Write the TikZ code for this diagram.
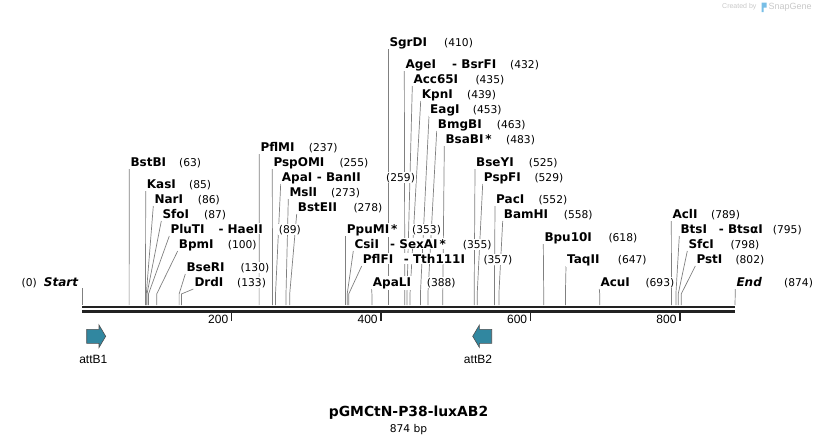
\documentclass[tikz,border=0pt]{standalone}
\usepackage{fontspec}
\setmainfont{DejaVu Sans}
\newfontfamily\featfont{Liberation Sans}
\usetikzlibrary{positioning}
\pgfdeclarelayer{background}
\pgfsetlayers{background,main}
\definecolor{cutgray}{RGB}{128,128,128}
\definecolor{featblue}{RGB}{49,135,160}
\definecolor{darkline}{RGB}{34,34,34}
\definecolor{markgray}{RGB}{200,200,200}
\definecolor{markblue}{RGB}{120,190,230}
\tikzset{enz/.style={anchor=base west, inner sep=1pt, fill=white, font=\fontsize{12}{14}\selectfont\bfseries}}
\tikzset{bp/.style={anchor=base west, inner sep=1pt, fill=white, font=\fontsize{10.7}{13}\selectfont}}
\tikzset{cutline/.style={draw=cutgray, line width=0.7pt}}
\tikzset{strand/.style={draw=darkline, line width=2.4pt}}
\tikzset{ruler/.style={draw=darkline, line width=1.6pt}}
\tikzset{feat/.style={draw=darkline!80, fill=featblue, line width=0.6pt}}
\tikzset{featlabel/.style={font=\featfont\fontsize{12}{14}\selectfont, inner sep=0pt}}
\tikzset{ticklabel/.style={anchor=base east, inner sep=0pt, font=\featfont\fontsize{12}{14}\selectfont}}

\begin{document}
\begin{tikzpicture}[x=1pt, y=-1pt]
\useasboundingbox (0,0) rectangle (818,445);

% ends of the sequence
\node[bp, anchor=base east] (zero) at (38,286) {(0)};
\node[enz, anchor=base west, font=\fontsize{12}{14}\selectfont\bfseries\itshape] (startl) at (42.7,286) {Start};
\node[enz, font=\fontsize{12}{14}\selectfont\bfseries\itshape] (endl) at (735.3,286) {End};
\node[bp] (endl-n) at (783,286) {(874)};
\coordinate (start-t) at (82,288);
\coordinate (start-c) at (82,305);
\coordinate (end-c) at (735,305);

% enzymes, middle block
\node[enz] (sgrdi) at (388.3,46) {SgrDI};
\node[bp] (sgrdi-n) at (443,46) {(410)};
\node[enz] (agei) at (404.3,68) {AgeI};
\node[enz] (bsrfi) at (451,68) {- BsrFI};
\node[bp] (agei-n) at (509,68) {(432)};
\node[enz] (acc65i) at (412.3,83) {Acc65I};
\node[bp] (acc65i-n) at (474.3,83) {(435)};
\node[enz] (kpni) at (420.7,98) {KpnI};
\node[bp] (kpni-n) at (466,98) {(439)};
\node[enz] (eagi) at (429,113) {EagI};
\node[bp] (eagi-n) at (471.7,113) {(453)};
\node[enz] (bmgbi) at (436.7,128) {BmgBI};
\node[bp] (bmgbi-n) at (495.7,128) {(463)};
\node[enz] (bsabi) at (444.3,143) {BsaBI\,*};
\node[bp] (bsabi-n) at (505,143) {(483)};

\node[enz] (pflmi) at (259.3,151) {PflMI};
\node[bp] (pflmi-n) at (307.7,151) {(237)};
\node[enz] (pspomi) at (272.3,166) {PspOMI};
\node[bp] (pspomi-n) at (338.3,166) {(255)};
\node[enz] (apai) at (280.7,181) {ApaI};
\node[enz] (banii) at (315.7,181) {- BanII};
\node[bp] (apai-n) at (385,181) {(259)};
\node[enz] (msli) at (288.3,196) {MslI};
\node[bp] (msli-n) at (330,196) {(273)};
\node[enz] (bsteii) at (296.7,211) {BstEII};
\node[bp] (bsteii-n) at (352.3,211) {(278)};

% enzymes, left block
\node[enz] (bstbi) at (129.3,166) {BstBI};
\node[bp] (bstbi-n) at (178,166) {(63)};
\node[enz] (kasi) at (145.7,188) {KasI};
\node[bp] (kasi-n) at (188,188) {(85)};
\node[enz] (nari) at (153.3,203) {NarI};
\node[bp] (nari-n) at (196.7,203) {(86)};
\node[enz] (sfoi) at (161.3,218) {SfoI};
\node[bp] (sfoi-n) at (203,218) {(87)};
\node[enz] (pluti) at (169.3,233) {PluTI};
\node[enz] (haeii) at (217.3,233) {- HaeII};
\node[bp] (pluti-n) at (277.7,233) {(89)};
\node[enz] (bpmi) at (177.7,248) {BpmI};
\node[bp] (bpmi-n) at (226.7,248) {(100)};
\node[enz] (bseri) at (185.3,271) {BseRI};
\node[bp] (bseri-n) at (239.3,271) {(130)};
\node[enz] (drdi) at (193.3,286) {DrdI};
\node[bp] (drdi-n) at (236,286) {(133)};

% enzymes, lower middle
\node[enz] (ppumi) at (345.7,233) {PpuMI\,*};
\node[bp] (ppumi-n) at (411,233) {(353)};
\node[enz] (csii) at (353.3,248) {CsiI};
\node[enz] (sexai) at (389,248) {- SexAI\,*};
\node[bp] (csii-n) at (461.7,248) {(355)};
\node[enz] (pflfi) at (361.7,263) {PflFI};
\node[enz] (tth111i) at (402.7,263) {- Tth111I};
\node[bp] (pflfi-n) at (482.3,263) {(357)};
\node[enz] (apali) at (371.7,286) {ApaLI};
\node[bp] (apali-n) at (425.7,286) {(388)};

% enzymes, right block
\node[enz] (bseyi) at (475,166) {BseYI};
\node[bp] (bseyi-n) at (527.7,166) {(525)};
\node[enz] (pspfi) at (482.7,181) {PspFI};
\node[bp] (pspfi-n) at (533.3,181) {(529)};
\node[enz] (paci) at (495,203) {PacI};
\node[bp] (paci-n) at (537.3,203) {(552)};
\node[enz] (bamhi) at (502.7,218) {BamHI};
\node[bp] (bamhi-n) at (562.7,218) {(558)};
\node[enz] (bpu10i) at (543.3,241) {Bpu10I};
\node[bp] (bpu10i-n) at (607.3,241) {(618)};
\node[enz] (taqii) at (566,263) {TaqII};
\node[bp] (taqii-n) at (616.7,263) {(647)};
\node[enz] (acui) at (599.3,286) {AcuI};
\node[bp] (acui-n) at (644.3,286) {(693)};
\node[enz] (acli) at (671.3,218) {AclI};
\node[bp] (acli-n) at (710,218) {(789)};
\node[enz] (btsi) at (679.3,233) {BtsI};
\node[enz] (btsai) at (717.7,233) {- BtsαI};
\node[bp] (btsi-n) at (771.7,233) {(795)};
\node[enz] (sfci) at (687.3,248) {SfcI};
\node[bp] (sfci-n) at (729.3,248) {(798)};
\node[enz] (psti) at (695.3,263) {PstI};
\node[bp] (psti-n) at (734.3,263) {(802)};

% cut sites on the sequence
\coordinate (sgrdi-c) at (388.3,305);
\coordinate (agei-c) at (404.8,305);
\coordinate (acc65i-c) at (407.0,305);
\coordinate (kpni-c) at (410.0,305);
\coordinate (eagi-c) at (420.4,305);
\coordinate (bmgbi-c) at (427.9,305);
\coordinate (bsabi-c) at (442.8,305);
\coordinate (pflmi-c) at (259.1,305);
\coordinate (pspomi-c) at (272.5,305);
\coordinate (apai-c) at (275.5,305);
\coordinate (msli-c) at (286.0,305);
\coordinate (bsteii-c) at (289.7,305);
\coordinate (bstbi-c) at (129.1,305);
\coordinate (kasi-c) at (145.5,305);
\coordinate (nari-c) at (146.3,305);
\coordinate (sfoi-c) at (147.0,305);
\coordinate (pluti-c) at (148.5,305);
\coordinate (bpmi-c) at (156.7,305);
\coordinate (bseri-c) at (179.1,305);
\coordinate (drdi-c) at (181.4,305);
\coordinate (ppumi-c) at (345.7,305);
\coordinate (csii-c) at (347.2,305);
\coordinate (pflfi-c) at (348.7,305);
\coordinate (apali-c) at (371.9,305);
\coordinate (bseyi-c) at (474.2,305);
\coordinate (pspfi-c) at (477.2,305);
\coordinate (paci-c) at (494.4,305);
\coordinate (bamhi-c) at (498.9,305);
\coordinate (bpu10i-c) at (543.7,305);
\coordinate (taqii-c) at (565.4,305);
\coordinate (acui-c) at (599.7,305);
\coordinate (acli-c) at (671.5,305);
\coordinate (btsi-c) at (675.9,305);
\coordinate (sfci-c) at (678.2,305);
\coordinate (psti-c) at (681.2,305);

\begin{pgfonlayer}{background}
\draw[cutline] (start-t) -- (start-c);
\draw[cutline] ([yshift=-3pt]endl.base west) -- (end-c);
\foreach \e in {sgrdi,agei,acc65i,kpni,eagi,bmgbi,bsabi,pflmi,pspomi,apai,msli,bsteii,
  bstbi,kasi,nari,sfoi,pluti,bpmi,bseri,drdi,ppumi,csii,pflfi,apali,
  bseyi,pspfi,paci,bamhi,bpu10i,taqii,acui,acli,btsi,sfci,psti}
  \draw[cutline] ([yshift=-3pt]\e.base west) -- ([yshift=11pt]\e-c) -- (\e-c);
\end{pgfonlayer}

% sequence and ruler
\draw[strand] (82,306.7) -- (735,306.7);
\draw[strand] (82,311.3) -- (735,311.3);
\coordinate (t200) at (231.4,312);
\coordinate (t400) at (380.8,312);
\coordinate (t600) at (530.3,312);
\coordinate (t800) at (679.7,312);
\draw[ruler] (t200) -- ++(0,9);
\draw[ruler] (t400) -- ++(0,9);
\draw[ruler] (t600) -- ++(0,9);
\draw[ruler] (t800) -- ++(0,9);
\node[ticklabel] (l200) at (228.4,323) {200};
\node[ticklabel] (l400) at (377.8,323) {400};
\node[ticklabel] (l600) at (527.3,323) {600};
\node[ticklabel] (l800) at (676.7,323) {800};

% features
\draw[feat] (86.7,329.3) -- (99,329.3) -- (99,325) -- (105.7,336.3) -- (99,347.5)
  -- (99,343.3) -- (86.7,343.3) -- cycle;
\draw[feat] (491.7,329.3) -- (479.4,329.3) -- (479.4,325) -- (472.7,336.3) -- (479.4,347.5)
  -- (479.4,343.3) -- (491.7,343.3) -- cycle;
\node[featlabel] (attb1) at (93.3,359) {attB1};
\node[featlabel] (attb2) at (478,359) {attB2};

% name and size
\node[font=\fontsize{13.9}{16}\selectfont\bfseries, inner sep=0pt] (title) at (408.5,413) {pGMCtN-P38-luxAB2};
\node[font=\fontsize{10.7}{13}\selectfont, inner sep=0pt, below=4pt of title] (size) {874 bp};

% watermark
\node[font=\featfont\fontsize{7}{8}\selectfont, text=markgray, inner sep=0pt, anchor=west] (created) at (722,7) {Created by};
\fill[markblue] (761.5,2.5) rectangle (763.5,12) (763.5,2.5) rectangle (766.5,7.5);
\node[font=\featfont\fontsize{9}{10}\selectfont, text=markgray, inner sep=0pt, anchor=west] (snapgene) at (768.5,7) {SnapGene};
\end{tikzpicture}
\end{document}
